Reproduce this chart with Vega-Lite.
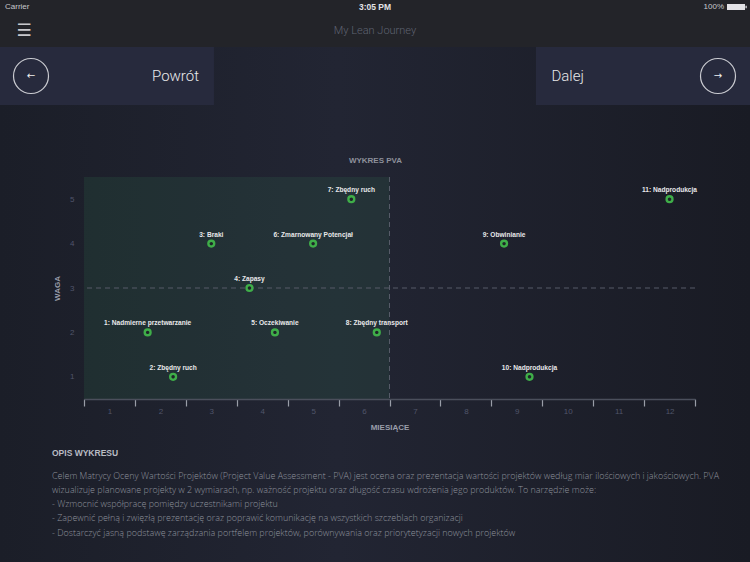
{
"$schema":"https://vega.github.io/schema/vega-lite/v6.json",
"width":611,"height":222,
"autosize":{"type":"none"},
"padding":{"left":84,"top":177,"right":55,"bottom":163},
"background":"#1c1f2a",
"config":{"view":{"stroke":null},"font":"Liberation Sans"},
"title":{"text":"OPIS WYKRESU","subtitle":["Celem Matrycy Oceny Wartości Projektów (Project Value Assessment - PVA) jest ocena oraz prezentacja wartości projektów według miar ilościowych i jakościowych. PVA","wizualizuje planowane projekty w 2 wymiarach, np. ważność projektu oraz długość czasu wdrożenia jego produktów. To narzędzie może:","- Wzmocnić współpracę pomiędzy uczestnikami projektu","- Zapewnić pełną i zwięzłą prezentację oraz poprawić komunikację na wszystkich szczeblach organizacji","- Dostarczyć jasną podstawę zarządzania portfelem projektów, porównywania oraz priorytetyzacji nowych projektów"],"orient":"bottom","anchor":"start","frame":"group","dx":-32,"offset":-113,"font":"Liberation Sans","fontSize":8.5,"fontWeight":"bold","color":"#b9bcc4","subtitleFont":"Open Sans","subtitleFontWeight":300,"subtitleFontSize":8.95,"subtitleColor":"#8e929c","subtitleLineHeight":14.3,"subtitlePadding":14},
"datasets":{
 "screen":[{"area":"screen"}],
 "bars":[{"area":"bars"}],
 "buttons":[{"label":"Powrót","arrow":"←","row":"buttons"},{"label":"Dalej","arrow":"→","row":"buttons"}],
 "status":[{"item":"Carrier","row":"status"},{"item":"3:05 PM","row":"status"},{"item":"100%","row":"status"}],
 "nav":[{"item":"☰","row":"nav"},{"item":"My Lean Journey","row":"nav"}],
 "quadrant":[{"fromMonth":0,"toMonth":6,"minWaga":0.5,"maxWaga":5.5}],
 "splitMonth":[{"month":6}],
 "splitWaga":[{"waga":3}],
 "points":[
  {"id":1,"miesiac":1.25,"waga":2,"label":"1: Nadmierne przetwarzanie"},
  {"id":2,"miesiac":1.75,"waga":1,"label":"2: Zbędny ruch"},
  {"id":3,"miesiac":2.5,"waga":4,"label":"3: Braki"},
  {"id":4,"miesiac":3.25,"waga":3,"label":"4: Zapasy"},
  {"id":5,"miesiac":3.75,"waga":2,"label":"5: Oczekiwanie"},
  {"id":6,"miesiac":4.5,"waga":4,"label":"6: Zmarnowany Potencjał"},
  {"id":7,"miesiac":5.25,"waga":5,"label":"7: Zbędny ruch"},
  {"id":8,"miesiac":5.75,"waga":2,"label":"8: Zbędny transport"},
  {"id":9,"miesiac":8.25,"waga":4,"label":"9: Obwinianie"},
  {"id":10,"miesiac":8.75,"waga":1,"label":"10: Nadprodukcja"},
  {"id":11,"miesiac":11.5,"waga":5,"label":"11: Nadprodukcja"}
 ]
},
"layer":[
 {"data":{"name":"screen"},
  "mark":{"type":"rect","fill":{"gradient":"linear","x1":0,"x2":1,"y1":0,"y2":0,"stops":[{"offset":0,"color":"#1b1e28"},{"offset":0.45,"color":"#222533"},{"offset":1,"color":"#191b24"}]}},
  "encoding":{
   "x":{"field":"area","type":"nominal","scale":{"type":"band","domain":["screen"],"range":[-84,666],"paddingInner":0,"paddingOuter":0},"axis":null},
   "y":{"field":"area","type":"nominal","scale":{"type":"band","domain":["screen"],"range":[-177,385],"paddingInner":0,"paddingOuter":0},"axis":null}}},
 {"data":{"name":"bars"},
  "mark":{"type":"rect","fill":"#232429"},
  "encoding":{
   "x":{"field":"area","type":"nominal","scale":{"type":"band","domain":["bars"],"range":[-84,666],"paddingInner":0,"paddingOuter":0},"axis":null},
   "y":{"field":"area","type":"nominal","scale":{"type":"band","domain":["bars"],"range":[-177,-130],"paddingInner":0,"paddingOuter":0},"axis":null}}},
 {"data":{"name":"buttons"},
  "mark":{"type":"rect","fill":"#272a3d"},
  "encoding":{
   "x":{"field":"label","type":"nominal","scale":{"type":"band","domain":["Powrót","gap","Dalej"],"range":[-84,666],"paddingInner":0.2015,"paddingOuter":0},"axis":null},
   "y":{"field":"row","type":"nominal","scale":{"type":"band","domain":["buttons"],"range":[-130,-72],"paddingInner":0,"paddingOuter":0},"axis":null}}},
 {"data":{"name":"buttons"},
  "mark":{"type":"point","shape":"circle","filled":false,"stroke":"#c9cad0","strokeWidth":1.2,"size":1225,"opacity":1},
  "encoding":{
   "x":{"field":"label","type":"nominal","scale":{"type":"point","domain":["Powrót","Dalej"],"range":[-53,634],"padding":0},"axis":null},
   "y":{"field":"row","type":"nominal","scale":{"type":"band","domain":["buttons"],"range":[-130,-72],"paddingInner":0,"paddingOuter":0},"axis":null}}},
 {"data":{"name":"buttons"},
  "mark":{"type":"text","font":"DejaVu Sans","fontSize":10,"fill":"#f0f0f0","align":"center","baseline":"middle"},
  "encoding":{
   "x":{"field":"label","type":"nominal","scale":{"type":"point","domain":["Powrót","Dalej"],"range":[-53,634],"padding":0},"axis":null},
   "y":{"field":"row","type":"nominal","scale":{"type":"band","domain":["buttons"],"range":[-130,-72],"paddingInner":0,"paddingOuter":0},"axis":null},
   "text":{"field":"arrow"}}},
 {"data":{"name":"buttons"},
  "mark":{"type":"text","font":"Roboto","fontWeight":300,"fontSize":15,"fill":"#e8e8ea","align":"center","baseline":"middle"},
  "encoding":{
   "x":{"field":"label","type":"nominal","scale":{"type":"point","domain":["Powrót","Dalej"],"range":[91.5,483.7],"padding":0},"axis":null},
   "y":{"field":"row","type":"nominal","scale":{"type":"band","domain":["buttons"],"range":[-130,-72],"paddingInner":0,"paddingOuter":0},"axis":null},
   "text":{"field":"label"}}},
 {"data":{"name":"status"},
  "transform":[{"filter":"datum.item == 'Carrier'"}],
  "mark":{"type":"text","fontSize":8,"fill":"#c8c8cc","align":"left","baseline":"middle"},
  "encoding":{
   "x":{"field":"item","type":"nominal","scale":{"type":"point","domain":["Carrier","3:05 PM","100%"],"range":[-79,661],"padding":0},"axis":null},
   "y":{"field":"row","type":"nominal","scale":{"type":"band","domain":["status"],"range":[-177,-163],"paddingInner":0,"paddingOuter":0},"axis":null},
   "text":{"field":"item"}}},
 {"data":{"name":"status"},
  "transform":[{"filter":"datum.item == '3:05 PM'"}],
  "mark":{"type":"text","fontSize":8.5,"fontWeight":"bold","fill":"#e2e2e6","align":"center","baseline":"middle"},
  "encoding":{
   "x":{"field":"item","type":"nominal","scale":{"type":"point","domain":["Carrier","3:05 PM","100%"],"range":[-79,661],"padding":0},"axis":null},
   "y":{"field":"row","type":"nominal","scale":{"type":"band","domain":["status"],"range":[-177,-163],"paddingInner":0,"paddingOuter":0},"axis":null},
   "text":{"field":"item"}}},
 {"data":{"name":"status"},
  "transform":[{"filter":"datum.item == '100%'"}],
  "mark":{"type":"text","fontSize":8,"fill":"#c8c8cc","align":"right","baseline":"middle","dx":-21},
  "encoding":{
   "x":{"field":"item","type":"nominal","scale":{"type":"point","domain":["Carrier","3:05 PM","100%"],"range":[-79,661],"padding":0},"axis":null},
   "y":{"field":"row","type":"nominal","scale":{"type":"band","domain":["status"],"range":[-177,-163],"paddingInner":0,"paddingOuter":0},"axis":null},
   "text":{"field":"item"}}},
 {"data":{"name":"status"},
  "transform":[{"filter":"datum.item == '100%'"}],
  "mark":{"type":"point","shape":"M-3.6,-0.6H0V0.6H-3.6Z M0.1,-0.25H0.35V0.25H0.1Z","filled":true,"fill":"#e2e2e6","strokeWidth":0,"size":100,"opacity":1},
  "encoding":{
   "x":{"field":"item","type":"nominal","scale":{"type":"point","domain":["Carrier","3:05 PM","100%"],"range":[-79,661],"padding":0},"axis":null},
   "y":{"field":"row","type":"nominal","scale":{"type":"band","domain":["status"],"range":[-177,-163],"paddingInner":0,"paddingOuter":0},"axis":null}}},
 {"data":{"name":"nav"},
  "transform":[{"filter":"datum.item == '☰'"}],
  "mark":{"type":"text","font":"DejaVu Sans","fontSize":17,"fill":"#c8c8cc","align":"center","baseline":"middle"},
  "encoding":{
   "x":{"field":"item","type":"nominal","scale":{"type":"point","domain":["☰","My Lean Journey"],"range":[-60,291],"padding":0},"axis":null},
   "y":{"field":"row","type":"nominal","scale":{"type":"band","domain":["nav"],"range":[-153,-139],"paddingInner":0,"paddingOuter":0},"axis":null},
   "text":{"field":"item"}}},
 {"data":{"name":"nav"},
  "transform":[{"filter":"datum.item != '☰'"}],
  "mark":{"type":"text","font":"Roboto","fontWeight":300,"fontSize":11,"fill":"#5f6371","align":"center","baseline":"middle"},
  "encoding":{
   "x":{"field":"item","type":"nominal","scale":{"type":"point","domain":["☰","My Lean Journey"],"range":[-60,291],"padding":0},"axis":null},
   "y":{"field":"row","type":"nominal","scale":{"type":"band","domain":["nav"],"range":[-153,-139],"paddingInner":0,"paddingOuter":0},"axis":null},
   "text":{"field":"item"}}},
 {"data":{"name":"quadrant"},
  "mark":{"type":"rect","fill":"#3aa060","opacity":0.12},
  "encoding":{
   "x":{"field":"fromMonth","type":"quantitative","scale":{"domain":[0,12],"nice":false,"zero":false},
     "axis":{"zindex":2,"orient":"bottom","values":[0,1,2,3,4,5,6,7,8,9,10,11,12],"labelExpr":"datum.value < 12 ? '' + (datum.value + 1) : ''","labelOffset":25.5,"labelFlush":false,"labelOverlap":false,"domainColor":"#4b4f5c","domainWidth":1.5,"tickColor":"#9a9ea8","tickSize":7,"tickWidth":1.2,"labelColor":"#50556a","labelFontSize":8,"labelPadding":1,"grid":false,"title":"MIESIĄCE","titleColor":"#9a9eaa","titleFontSize":8,"titleFontWeight":"bold","titlePadding":8}},
   "x2":{"field":"toMonth"},
   "y":{"field":"minWaga","type":"quantitative","scale":{"domain":[0.5,5.5],"nice":false,"zero":false},
     "axis":{"zindex":2,"values":[1,2,3,4,5],"domain":false,"ticks":false,"grid":false,"labelColor":"#50556a","labelFontSize":8,"labelPadding":10,"title":"WAGA","titleColor":"#9a9eaa","titleFontSize":8,"titleFontWeight":"bold","titlePadding":8}},
   "y2":{"field":"maxWaga"}}},
 {"data":{"name":"splitMonth"},
  "mark":{"type":"rule","stroke":"#565b68","strokeDash":[5,4],"strokeWidth":1},
  "encoding":{
   "x":{"field":"month","type":"quantitative","scale":{"domain":[0,12],"nice":false,"zero":false},
     "axis":{"zindex":2,"orient":"top","labels":false,"ticks":false,"domain":false,"grid":false,"title":"WYKRES PVA","titleColor":"#8e919b","titleFontSize":8,"titleFontWeight":"bold","titlePadding":13,"titleX":291}}}},
 {"data":{"name":"splitWaga"},
  "mark":{"type":"rule","stroke":"#565b68","strokeDash":[5,4],"strokeWidth":1},
  "encoding":{
   "y":{"field":"waga","type":"quantitative","scale":{"domain":[0.5,5.5],"nice":false,"zero":false},"axis":null}}},
 {"data":{"name":"points"},
  "mark":{"type":"point","shape":"circle","filled":true,"fill":"#1e2528","stroke":"#3fae49","strokeWidth":2.4,"size":34,"opacity":1},
  "encoding":{
   "x":{"field":"miesiac","type":"quantitative","scale":{"domain":[0,12],"nice":false,"zero":false},"axis":null},
   "y":{"field":"waga","type":"quantitative","scale":{"domain":[0.5,5.5],"nice":false,"zero":false},"axis":null}}},
 {"data":{"name":"points"},
  "mark":{"type":"text","fontSize":6.6,"fontWeight":"bold","fill":"#e8e8ea","dy":-9,"align":"center","baseline":"middle"},
  "encoding":{
   "x":{"field":"miesiac","type":"quantitative","scale":{"domain":[0,12],"nice":false,"zero":false},"axis":null},
   "y":{"field":"waga","type":"quantitative","scale":{"domain":[0.5,5.5],"nice":false,"zero":false},"axis":null},
   "text":{"field":"label"}}}
],
"resolve":{"scale":{"x":"independent","y":"independent"}}
}
